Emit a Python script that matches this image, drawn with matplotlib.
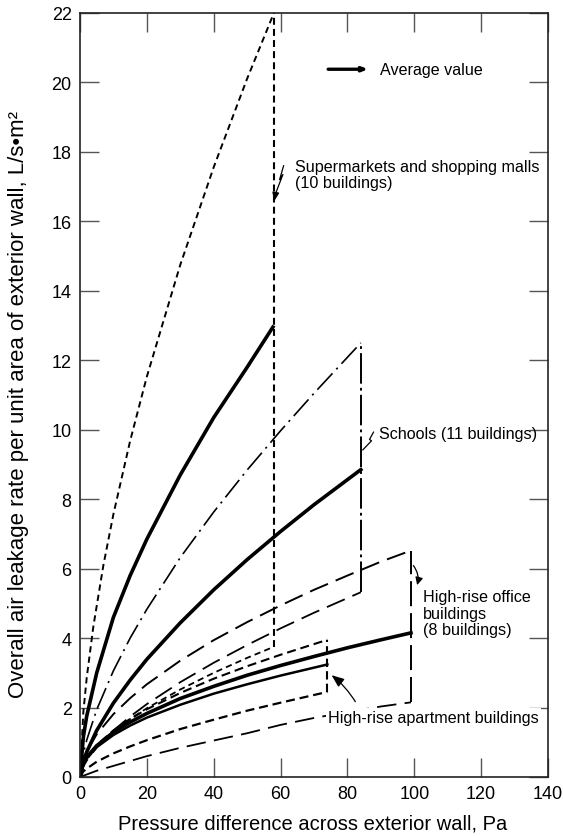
import matplotlib
matplotlib.use("Agg")
import matplotlib.pyplot as plt
from matplotlib.patches import FancyArrowPatch

plt.rcParams['font.family'] = ['Liberation Sans', 'DejaVu Sans']
plt.rcParams['lines.scale_dashes'] = False

# Supermarkets and shopping malls (10 buildings)
sm_x = [0, 1, 2, 4, 7, 10, 15, 20, 30, 40, 50, 58]
sm_upper = [0, 1.87, 2.85, 4.34, 6.10, 7.57, 9.68, 11.53, 14.75, 17.56, 20.11, 22.0]
sm_x_avg = [0, 1, 2, 5, 10, 15, 20, 30, 40, 50, 58]
sm_avg = [0, 1.15, 1.75, 3.0, 4.6, 5.8, 6.85, 8.7, 10.35, 11.8, 13.0]
sm_lower = [0, 0.33, 0.50, 0.86, 1.31, 1.67, 1.98, 2.52, 3.00, 3.43, 3.75]

# Schools (11 buildings)
sc_x = [0, 1, 2, 5, 10, 15, 20, 30, 40, 50, 60, 70, 84]
sc_upper = [0, 0.67, 1.06, 1.94, 3.06, 4.0, 4.83, 6.32, 7.63, 8.84, 9.97, 11.05, 12.5]
sc_avg = [0, 0.46, 0.72, 1.34, 2.13, 2.79, 3.39, 4.44, 5.39, 6.26, 7.07, 7.84, 8.85]
sc_lower = [0, 0.30, 0.47, 0.85, 1.34, 1.74, 2.10, 2.73, 3.29, 3.80, 4.28, 4.73, 5.32]

# High-rise office buildings (8 buildings)
of_x = [0, 1, 2, 5, 10, 15, 20, 30, 40, 50, 60, 70, 80, 90, 99]
of_upper = [0, 0.50, 0.74, 1.23, 1.81, 2.27, 2.67, 3.35, 3.94, 4.46, 4.94, 5.39, 5.80, 6.20, 6.52]
of_avg = [0, 0.40, 0.57, 0.90, 1.29, 1.58, 1.83, 2.26, 2.61, 2.93, 3.21, 3.47, 3.72, 3.95, 4.15]
of_x_low = [0, 5, 10, 20, 30, 40, 50, 60, 70, 80, 90, 99]
of_lower = [0, 0.18, 0.32, 0.60, 0.84, 1.05, 1.26, 1.50, 1.70, 1.87, 2.03, 2.15]

# High-rise apartment buildings
ap_x = [0, 1, 2, 5, 10, 15, 20, 30, 40, 50, 60, 74]
ap_upper = [0, 0.39, 0.56, 0.92, 1.34, 1.67, 1.95, 2.42, 2.83, 3.19, 3.52, 3.95]
ap_avg = [0, 0.39, 0.55, 0.86, 1.21, 1.48, 1.71, 2.08, 2.40, 2.67, 2.92, 3.24]
ap_lower = [0, 0.16, 0.24, 0.44, 0.68, 0.88, 1.06, 1.38, 1.65, 1.91, 2.14, 2.45]

x_ticks = [0, 20, 40, 60, 80, 100, 120, 140]
y_ticks = [0, 2, 4, 6, 8, 10, 12, 14, 16, 18, 20, 22]

SHORT = (4.5, 3.0)
MED = (6.5, 3.5)
LONG = (14, 6)
DASHDOT = (16, 4, 1.5, 4)

fig = plt.figure(figsize=(5.63, 8.37), dpi=100)
ax = fig.add_axes([0.1421, 0.0705, 0.8313, 0.9128])

k = 'black'
# supermarkets
ax.plot(sm_x, sm_upper, color=k, lw=1.4, dashes=SHORT)
ax.plot(sm_x_avg, sm_avg, color=k, lw=2.6, solid_capstyle='butt')
ax.plot(sm_x_avg, sm_lower, color=k, lw=1.3, dashes=SHORT)
ax.plot([sm_x[-1], sm_x[-1]], [sm_lower[-1], sm_upper[-1]], color=k, lw=1.5, dashes=(5, 3))

# schools
ax.plot(sc_x, sc_upper, color=k, lw=1.2, dashes=DASHDOT)
ax.plot(sc_x, sc_avg, color=k, lw=2.6)
ax.plot(sc_x, sc_lower, color=k, lw=1.3, dashes=LONG)
ax.plot([sc_x[-1], sc_x[-1]], [sc_lower[-1], sc_upper[-1]], color=k, lw=1.4, dashes=(22, 3, 2, 3))

# office
ax.plot(of_x, of_upper, color=k, lw=1.4, dashes=LONG)
ax.plot(of_x, of_avg, color=k, lw=2.6)
ax.plot(of_x_low, of_lower, color=k, lw=1.3, dashes=LONG)
ax.plot([of_x[-1], of_x[-1]], [of_lower[-1], of_upper[-1]], color=k, lw=1.4, dashes=(18, 5))

# apartments
ax.plot(ap_x, ap_upper, color=k, lw=1.5, dashes=MED)
ax.plot(ap_x, ap_avg, color=k, lw=1.8)
ax.plot(ap_x, ap_lower, color=k, lw=1.6, dashes=MED)
ax.plot([ap_x[-1], ap_x[-1]], [ap_lower[-1], ap_upper[-1]], color=k, lw=1.5, dashes=(6, 3))

ax.set_xlim(0, 140)
ax.set_ylim(0, 22)
ax.set_xticks(x_ticks)
ax.set_yticks(y_ticks)
ax.tick_params(direction='in', length=13.5, width=1.0, color='#555555',
               top=True, right=True, labelsize=13, pad=6)
for s in ax.spines.values():
    s.set_linewidth(1.2)
    s.set_color('#222222')

fig.text(313 / 563, 1 - 824 / 837, 'Pressure difference across exterior wall, Pa',
         fontsize=14.5, ha='center', va='center')
fig.text(19 / 563, 1 - 405 / 837,
         'Overall air leakage rate per unit area of exterior wall, L/s\u2022m\u00b2',
         fontsize=16, rotation=90, ha='center', va='center')

# legend entry
ax.annotate('', xy=(87, 20.38), xytext=(73.4, 20.38),
            arrowprops=dict(arrowstyle='-|>,head_length=0.3,head_width=0.12', lw=2.4, color=k))
ax.text(89.8, 20.38, 'Average value', fontsize=11.6, va='center', ha='left')

fs = 11.6
ax.text(64.4, 17.35, 'Supermarkets and shopping malls\n(10 buildings)', fontsize=fs,
        va='center', ha='left', linespacing=1.1)
ax.plot([60.9, 59.7, 60.7, 58.3], [17.6, 17.2, 17.35, 16.75], color=k, lw=0.9)
ax.annotate('', xy=(57.9, 16.5), xytext=(58.5, 16.8),
            arrowprops=dict(arrowstyle='-|>,head_length=0.5,head_width=0.2', lw=1, color=k))

ax.text(89.3, 9.88, 'Schools (11 buildings)', fontsize=fs, va='center', ha='left')
ax.plot([87.8, 86.6, 87.2, 84.6], [9.93, 9.72, 9.68, 9.42], color=k, lw=0.9)

ax.text(102.6, 4.72, 'High-rise office\nbuildings\n(8 buildings)', fontsize=fs,
        va='center', ha='left', linespacing=1.1)
ax.add_patch(FancyArrowPatch((99.2, 6.15), (100.6, 5.45), connectionstyle='arc3,rad=-0.3',
                             arrowstyle='-|>,head_length=3,head_width=1.5', lw=0.9, color=k,
                             mutation_scale=1.5))

ax.text(74.1, 1.72, 'High-rise apartment buildings', fontsize=fs, va='center', ha='left',
        zorder=5, bbox=dict(facecolor='white', edgecolor='none', pad=1.5))
ax.add_patch(FancyArrowPatch((82.8, 2.1), (74.6, 2.98), connectionstyle='arc3,rad=0.1',
                             arrowstyle='-|>,head_length=5,head_width=2', lw=0.9, color=k,
                             mutation_scale=1.5, zorder=6))

fig.savefig('out.png', dpi=100)
